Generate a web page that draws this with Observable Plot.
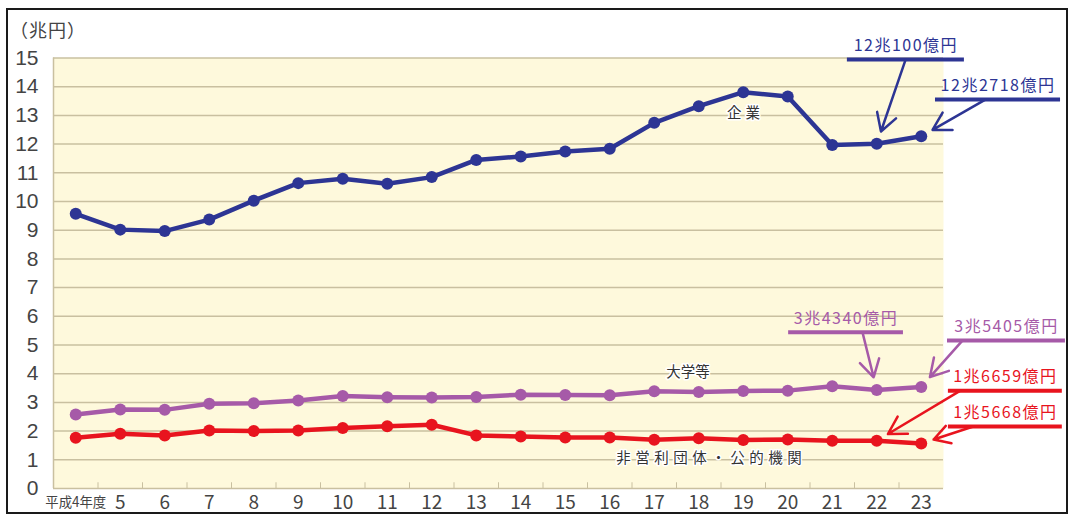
<!DOCTYPE html>
<html>
<head>
<meta charset="utf-8">
<script src="https://cdn.jsdelivr.net/npm/d3@7"></script>
<script src="https://cdn.jsdelivr.net/npm/@observablehq/plot@0.6"></script>
<style>
  html, body { margin: 0; padding: 0; background: #fff; }
  #wrap { position: relative; width: 1070px; height: 515px; overflow: hidden; }
  #wrap svg { position: absolute; left: 0; top: 0; }
  #border { position: absolute; left: 6px; top: 8px; width: 1062px; height: 506px;
            box-sizing: border-box; border: 2.5px solid #1a1a1a; pointer-events: none; }
  #unit { position: absolute; left: 10px; top: 16px; font: 18px "Noto Sans CJK JP", sans-serif; color: #444; letter-spacing: 1px; }
</style>
</head>
<body>
<div id="wrap">
  <div id="unit">（兆円）</div>
  <div id="border"></div>
</div>
<script>
// ---- data ----
const years = [4, 5, 6, 7, 8, 9, 10, 11, 12, 13, 14, 15, 16, 17, 18, 19, 20, 21, 22, 23];
const xLabels = ["平成4年度", "5", "6", "7", "8", "9", "10", "11", "12", "13", "14", "15", "16", "17", "18", "19", "20", "21", "22", "23"];
const yTicks = [0, 1, 2, 3, 4, 5, 6, 7, 8, 9, 10, 11, 12, 13, 14, 15];
const seriesNames = ["企業", "大学等", "非営利団体・公的機関"];
const corp = [9.57, 9.02, 8.97, 9.37, 10.03, 10.64, 10.79, 10.62, 10.85, 11.45, 11.57, 11.74, 11.84, 12.74, 13.32, 13.81, 13.66, 11.97, 12.01, 12.2718];
const univ = [2.58, 2.75, 2.74, 2.95, 2.97, 3.07, 3.22, 3.18, 3.17, 3.19, 3.27, 3.26, 3.25, 3.39, 3.36, 3.40, 3.41, 3.56, 3.434, 3.5405];
const nonprofit = [1.77, 1.91, 1.85, 2.02, 2.00, 2.02, 2.11, 2.17, 2.22, 1.85, 1.81, 1.78, 1.78, 1.70, 1.75, 1.69, 1.71, 1.66, 1.6659, 1.5668];
const seriesColors = ["#2d3594", "#a65aa8", "#e8141e"];

// line labels (anchor in data units)
const lineLabels = [
  {text: "企業", x: 19.05, y: 13.07},
  {text: "大学等", x: 17.76, y: 4.04},
  {text: "非営利団体・公的機関", x: 18.28, y: 1.05}
];

// callouts: label underline span (years), underline level (value), arrow start, target
const callouts = [
  {text: "12兆100億円",  series: "企業", year: 22, ux1: 21.34, ux2: 23.97, uy: 14.95, ax: 22.65},
  {text: "12兆2718億円", series: "企業", year: 23, ux1: 23.32, ux2: 26.13, uy: 13.55, ax: 24.44},
  {text: "3兆4340億円",  series: "大学等", year: 22, ux1: 20.02, ux2: 22.60, uy: 5.44, ax: 21.68},
  {text: "3兆5405億円",  series: "大学等", year: 23, ux1: 23.59, ux2: 26.24, uy: 5.16, ax: 23.93},
  {text: "1兆6659億円",  series: "非営利団体・公的機関", year: 22, ux1: 23.61, ux2: 26.17, uy: 3.41, ax: 23.88},
  {text: "1兆5668億円",  series: "非営利団体・公的機関", year: 23, ux1: 23.61, ux2: 26.17, uy: 2.16, ax: 24.17}
];

// ---- build table ----
const seriesValues = [corp, univ, nonprofit];
const rows = seriesNames.flatMap((name, s) =>
  years.map((yr, i) => ({year: yr, value: seriesValues[s][i], series: name})));
const valueOf = (name, yr) => seriesValues[seriesNames.indexOf(name)][years.indexOf(yr)];
const colorOf = name => seriesColors[seriesNames.indexOf(name)];
const calloutRows = callouts.map(c => ({...c, tx: (c.ux1 + c.ux2) / 2, ty: valueOf(c.series, c.year), color: colorOf(c.series)}));

const digitFont = "'Liberation Sans', Arial, sans-serif";
const cjkFont = "'Noto Sans CJK JP', sans-serif";

const svg = Plot.plot({
  width: 1070,
  height: 515,
  marginLeft: 53,
  marginRight: 127,
  marginTop: 57.5,
  marginBottom: 27,
  style: {background: "transparent", fontFamily: cjkFont, overflow: "visible"},
  x: {domain: [3.5, 23.5], axis: null},
  y: {domain: [0, 15], axis: null},
  color: {domain: seriesNames, range: seriesColors},
  marks: [
    Plot.frame({fill: "#fef9dc", stroke: null}),
    Plot.ruleY(yTicks, {stroke: "#c9c0a0", strokeWidth: 1.5}),
    Plot.ruleX([3.5], {stroke: "#c9c0a0", strokeWidth: 1.5}),
    Plot.ruleX(years.slice(1).map(y => y - 0.5), {y1: 0, y2: 0.2, stroke: "#c9c0a0", strokeWidth: 1}),
    Plot.axisY(yTicks, {tickSize: 0, tickPadding: 15, fontSize: 21, fill: "#444", fontFamily: digitFont, label: null}),
    Plot.text(years, {x: d => d, y: 0, dy: 14, text: (d, i) => xLabels[i], fontSize: d => d === 4 ? 14 : 19,
      fill: "#444", fontFamily: d => d === 4 ? cjkFont : digitFont}),
    Plot.line(rows, {x: "year", y: "value", z: "series", stroke: "series", strokeWidth: 4.5, strokeLinejoin: "round"}),
    Plot.dot(rows, {x: "year", y: "value", fill: "series", r: 6, stroke: null}),
    Plot.text(lineLabels, {x: "x", y: "y", text: "text", fontSize: 14.5, fill: "#333", stroke: "white", strokeWidth: 3, paintOrder: "stroke"}),
    Plot.ruleY(calloutRows, {y: "uy", x1: "ux1", x2: "ux2", stroke: d => d.color, strokeWidth: 4}),
    Plot.text(calloutRows, {x: "tx", y: "uy", dy: -13.5, text: "text", fill: d => d.color, fontSize: 16}),
    Plot.arrow(calloutRows, {x1: "ax", y1: "uy", x2: "year", y2: "ty", stroke: d => d.color, strokeWidth: 2.5, headLength: 12, insetEnd: 13})
  ]
});

// typographic tweaks
d3.select(svg).selectAll("text").each(function() {
  const t = this.textContent;
  if (t === "平成4年度") {
    this.setAttribute("textLength", 61);
    this.setAttribute("lengthAdjust", "spacingAndGlyphs");
  } else if (/兆.*億円/.test(t)) {
    this.style.letterSpacing = "1.5px";
  } else if (t === "企業") {
    this.style.letterSpacing = "4px";
  } else if (t === "非営利団体・公的機関") {
    this.style.letterSpacing = "4.5px";
  }
});

document.getElementById("wrap").prepend(svg);
</script>
</body>
</html>
